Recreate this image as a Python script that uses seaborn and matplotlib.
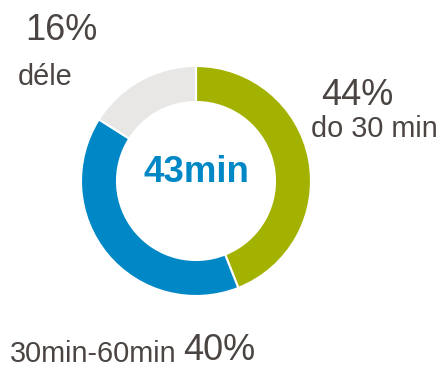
import matplotlib
matplotlib.use("Agg")
import matplotlib.pyplot as plt
import seaborn as sns

sns.set_theme(style="white")
plt.rcParams["font.family"] = ["Liberation Sans", "DejaVu Sans"]

# Commute-time shares
categories = ["do 30 min", "30min-60min", "déle"]
shares = [44, 40, 16]
colors = ["#a3b100", "#0088c6", "#e8e7e5"]
average_label = "43min"

text_color = "#4a4542"

fig = plt.figure(figsize=(4.43, 3.68), dpi=100)
ax = fig.add_axes([0, 0, 1, 1])

ax.pie(
    shares,
    colors=colors,
    startangle=90,
    counterclock=False,
    center=(196, 187),
    radius=115,
    wedgeprops=dict(width=36, edgecolor="white", linewidth=1.5),
    frame=True,
)
ax.set_xlim(0, 443)
ax.set_ylim(0, 368)
ax.set_aspect("equal")
ax.axis("off")

pct = [f"{v}%" for v in shares]
big = 26
small = 20.8

# 44% / do 30 min
ax.text(321, 263, pct[0], fontsize=big, color=text_color, ha="left", va="baseline")
ax.text(311, 231, categories[0], fontsize=small, color=text_color, ha="left", va="baseline")
# 30min-60min / 40%
ax.text(10, 6, categories[1], fontsize=small, color=text_color, ha="left", va="baseline")
ax.text(183, 8, pct[1], fontsize=big, color=text_color, ha="left", va="baseline")
# 16% / déle
ax.text(25, 328, pct[2], fontsize=big, color=text_color, ha="left", va="baseline")
ax.text(18, 283, categories[2], fontsize=small, color=text_color, ha="left", va="baseline")

# Average in the centre
ax.text(196, 186, average_label, fontsize=26.4, fontweight="bold", color="#0088c6",
        ha="center", va="baseline")

fig.savefig("out.png", dpi=100)
